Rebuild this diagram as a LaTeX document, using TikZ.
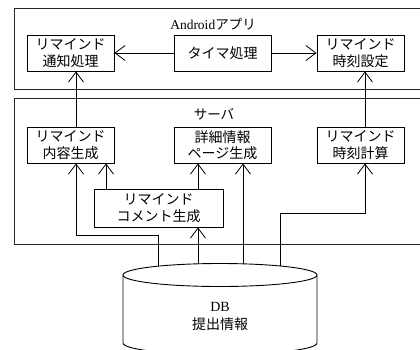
\documentclass[tikz,border=0pt]{standalone}
\usepackage{fontspec}
\setmainfont{Liberation Serif}
\newfontfamily\jp{Noto Sans CJK JP}
\usetikzlibrary{arrows.meta}
\begin{document}
\begin{tikzpicture}[x=1pt,y=-1pt,
  box/.style={draw,line width=0.9pt,minimum height=36pt,inner sep=1pt,align=center,font=\fontsize{14}{16.5}\selectfont\jp},
  grp/.style={draw,line width=1pt,black!85},
  lbl/.style={font=\fontsize{13.5}{15}\selectfont},
  arr/.style={line width=0.8pt,-{Straight Barb[length=10pt,width=15pt,line width=0.8pt]}},
  ln/.style={line width=0.8pt}]
\useasboundingbox (0,0) rectangle (420,349);
% group frames
\draw[grp] (440,8.5) -- (14,8.5) -- (14,89) -- (440,89);
\draw[grp] (440,98.5) -- (14,98.5) -- (14,244) -- (440,244);
\node[lbl] (andlbl) at (213,24) {Android{\jp アプリ}};
\node[lbl] (srvlbl) at (214,114) {\jp サーバ};
% android nodes
\node[box,minimum width=87pt] (notif) at (70.5,53) {リマインド\\通知処理};
\node[box,minimum width=97pt] (timer) at (222.5,53) {タイマ処理};
\node[box,minimum width=87pt] (tset) at (360.5,53) {リマインド\\時刻設定};
% server nodes
\node[box,minimum width=87pt] (content) at (70.5,145) {リマインド\\内容生成};
\node[box,minimum width=97pt] (detail) at (222.5,145) {詳細情報\\ページ生成};
\node[box,minimum width=87pt] (tcalc) at (360.5,145) {リマインド\\時刻計算};
\node[box,minimum width=129pt,minimum height=38pt] (comment) at (158.5,208) {リマインド\\コメント生成};
% DB cylinder
\draw[line width=0.9pt,fill=white] (123,275) -- (123,343) arc[start angle=180,end angle=360,x radius=97,y radius=-11.5] -- (317,275);
\draw[line width=0.9pt] (220,275) ellipse[x radius=97,y radius=11.5];
\node[align=center,font=\fontsize{14}{18}\selectfont] (db) at (220,316) {DB\\{\jp 提出情報}};
\coordinate (dbA) at (158,266.2);
\coordinate (dbB) at (198,263.8);
\coordinate (dbC) at (243,263.8);
\coordinate (dbD) at (280,266.0);
% connectors
\draw[arr] (timer.west) -- (notif.east);
\draw[arr] (timer.east) -- (tset.west);
\draw[arr] ([xshift=5.5pt]content.north) -- ([xshift=5.5pt]notif.south);
\draw[arr] ([xshift=4.5pt]tcalc.north) -- ([xshift=4.5pt]tset.south);
\draw[arr] (comment.north -| 106,0) -- (content.south -| 106,0);
\draw[arr] (comment.north -| dbB) -- (detail.south -| dbB);
\draw[arr] (dbA) -- (dbA |- 0,235) -| ([xshift=5.5pt]content.south);
\draw[arr] (dbB) -- (comment.south -| dbB);
\draw[arr] (dbC) -- (detail.south -| dbC);
\draw[arr] (dbD) -- (dbD |- 0,213) -| ([xshift=4.5pt]tcalc.south);
\end{tikzpicture}
\end{document}
